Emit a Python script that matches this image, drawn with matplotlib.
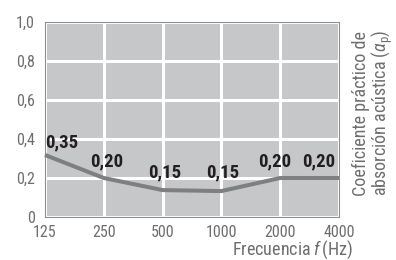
import matplotlib
matplotlib.use("Agg")
import matplotlib.pyplot as plt

FONT = "Roboto Condensed"
plt.rcParams['font.family'] = [FONT, 'DejaVu Sans']
plt.rcParams['mathtext.fontset'] = 'custom'
plt.rcParams['mathtext.rm'] = FONT
plt.rcParams['mathtext.it'] = FONT + ':italic'

# Data
frequencies = ["125", "250", "500", "1000", "2000", "4000"]
curve_values = [0.318, 0.20, 0.138, 0.133, 0.20, 0.20]
value_labels = ["0,35", "0,20", "0,15", "0,15", "0,20", "0,20"]
y_ticks = [0, 0.2, 0.4, 0.6, 0.8, 1.0]
y_tick_labels = ["0", "0,2", "0,4", "0,6", "0,8", "1,0"]

# Label placement (pixels relative to the curve point: dx, dy up)
label_dx = [0, 3, 2, 1, -6, -4]
label_dy = [8, 12, 13, 14, 12, 12]

W, H = 396, 260
PX = 72 / 100  # points per pixel
fig = plt.figure(figsize=(W / 100, H / 100), dpi=100)
ax = fig.add_axes([45 / W, 1 - 217 / H, (339 - 45) / W, (217 - 22) / H])

tick_color = "#6d6e70"
ax.set_facecolor("#c6c7c9")
x = list(range(len(frequencies)))
ax.set_xlim(0, len(frequencies) - 1)
ax.set_ylim(0, 1.0)
ax.set_xticks(x)
ax.set_xticklabels(frequencies)
ax.set_yticks(y_ticks)
ax.set_yticklabels(y_tick_labels)
ax.grid(True, color="white", linewidth=2.2)
ax.set_axisbelow(True)
ax.tick_params(axis="x", length=0, labelsize=11.5, colors=tick_color, pad=8 * PX)
ax.tick_params(axis="y", length=0, labelsize=11.5, colors=tick_color, pad=10 * PX)
for s in ax.spines.values():
    s.set_color("#8e8f91")
    s.set_linewidth(0.8)

ax.plot(x, curve_values, color="#7f7f7f", linewidth=2.9, solid_joinstyle="round",
        solid_capstyle="butt", clip_on=False, zorder=3)

for i, (xv, yv, lab) in enumerate(zip(x, curve_values, value_labels)):
    ha = "center"
    if i == 0:
        ha = "left"
    elif i == len(x) - 1:
        ha = "right"
    ax.annotate(lab, (xv, yv), xytext=(label_dx[i] * PX, label_dy[i] * PX),
                textcoords="offset points", ha=ha, va="baseline", fontsize=13.5,
                fontweight="bold", color="#231f20", zorder=4)

fig.text(353 / W, 1 - 255 / H, r"Frecuencia $f\,$(Hz)", ha="right", va="baseline",
         fontsize=13, color=tick_color)
fig.text(366 / W, 1 - 31 / H, "Coeficiente práctico de", rotation=90,
         rotation_mode="anchor", ha="right", va="baseline", fontsize=13, color=tick_color)
fig.text(387 / W, 1 - 29 / H, r"absorción acústica ($\alpha_{\mathrm{p}}$)", rotation=90,
         rotation_mode="anchor", ha="right", va="baseline", fontsize=13, color=tick_color)

fig.savefig("out.png", dpi=100)
